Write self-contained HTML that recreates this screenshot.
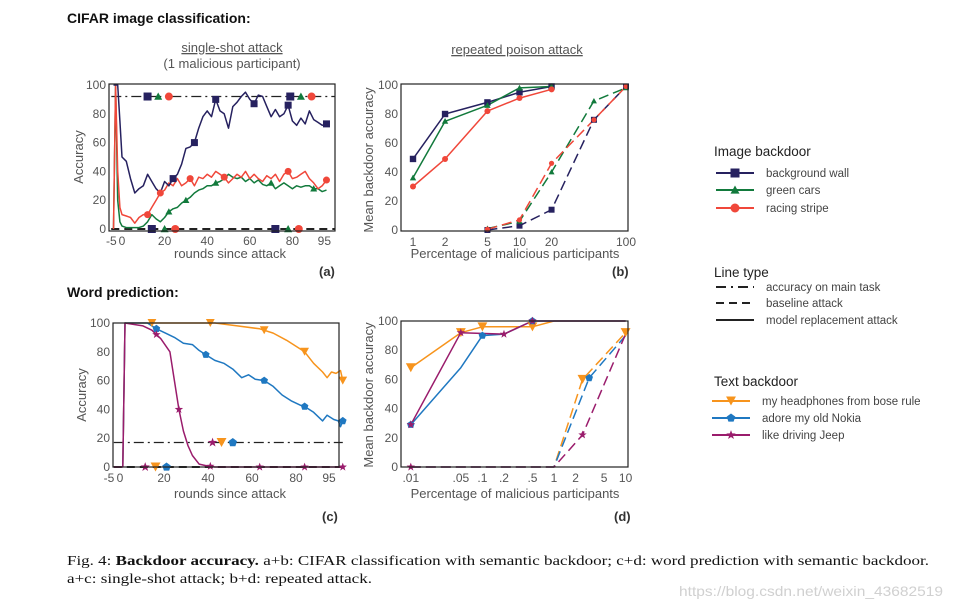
<!DOCTYPE html>
<html><head><meta charset="utf-8"><style>
body{margin:0;background:#fff;}
svg{display:block;font-family:"Liberation Sans",sans-serif;}
.tk{font-size:12px;fill:#555;}
.al{font-size:13px;fill:#555;}
</style></head><body>
<svg id="fig" width="955" height="609" viewBox="0 0 955 609">
<rect width="955" height="609" fill="#fff"/>
<text x="67" y="23" font-size="14" font-weight="bold" fill="#111">CIFAR image classification:</text>
<text x="67" y="297" font-size="14" font-weight="bold" fill="#111">Word prediction:</text>
<text x="232" y="52" text-anchor="middle" class="al" text-decoration="underline">single-shot attack</text>
<text x="232" y="68" text-anchor="middle" class="al">(1 malicious participant)</text>
<text x="517" y="54" text-anchor="middle" class="al" text-decoration="underline">repeated poison attack</text>
<text x="230" y="258" text-anchor="middle" class="al">rounds since attack</text>
<text x="230" y="498" text-anchor="middle" class="al">rounds since attack</text>
<text x="515" y="258" text-anchor="middle" class="al">Percentage of malicious participants</text>
<text x="515" y="498" text-anchor="middle" class="al">Percentage of malicious participants</text>
<text transform="translate(83,157) rotate(-90)" text-anchor="middle" class="al">Accuracy</text>
<text transform="translate(86,395) rotate(-90)" text-anchor="middle" class="al">Accuracy</text>
<text transform="translate(373,160) rotate(-90)" text-anchor="middle" class="al">Mean backdoor accuracy</text>
<text transform="translate(373,395) rotate(-90)" text-anchor="middle" class="al">Mean backdoor accuracy</text>
<text x="319" y="276" font-size="13" font-weight="bold" fill="#333">(a)</text>
<text x="612" y="276" font-size="13" font-weight="bold" fill="#333">(b)</text>
<text x="322" y="521" font-size="13" font-weight="bold" fill="#333">(c)</text>
<text x="614" y="521" font-size="13" font-weight="bold" fill="#333">(d)</text>
<g id="legend">
<text x="714" y="156" font-size="13.5" fill="#222">Image backdoor</text>
<text x="714" y="277" font-size="13.5" fill="#222">Line type</text>
<text x="714" y="386" font-size="13.5" fill="#222">Text backdoor</text>
</g>
<text x="67" y="565" font-family="Liberation Serif,serif" font-size="14" fill="#111" textLength="862" lengthAdjust="spacingAndGlyphs">Fig. 4: <tspan font-weight="bold">Backdoor accuracy.</tspan> a+b: CIFAR classification with semantic backdoor; c+d: word prediction with semantic backdoor.</text>
<text x="67" y="583" font-family="Liberation Serif,serif" font-size="14" fill="#111" textLength="305" lengthAdjust="spacingAndGlyphs">a+c: single-shot attack; b+d: repeated attack.</text>
<text x="679" y="596" font-size="14" fill="#d0d0d0" textLength="264" lengthAdjust="spacingAndGlyphs">https://blog.csdn.net/weixin_43682519</text>
</svg>
<script>
// ---------- data ----------
const roundsA = [-4,-3,-2,-1,0,2,4,6,8,10,12,14,16,18,20,22,24,26,28,30,32,34,36,38,40,42,44,46,48,50,52,54,56,58,60,62,64,66,68,70,72,74,76,78,80,82,84,86,88,90,92,94,96];
const wallA = [100,100,100,75,50,47,35,25,28,30,38,33,28,25,33,30,35,38,45,56,57,60,70,78,82,78,90,82,80,70,85,88,92,95,90,87,93,92,85,78,83,78,80,86,75,72,77,73,82,76,74,72,73];
const stripeA = [0,100,40,15,10,9,8,4,8,10,10,15,20,25,27,32,30,35,30,32,35,30,36,35,38,36,40,38,36,32,35,38,36,40,35,38,35,33,37,35,38,33,38,40,35,36,38,40,35,32,28,30,34];
const carsA = [0,100,20,5,2,1,1,1,1,2,5,10,7,5,8,12,14,15,18,20,22,25,27,28,30,30,32,33,35,38,36,35,36,33,35,32,34,31,30,32,28,30,32,30,28,30,29,30,30,28,28,26,27];
const mainTaskA = 92;
const wallMarkA = [24,34,44,62,78,96];
const stripeMarkA = [12,18,32,48,78,96];
const carsMarkA = [22,30,44,70,90];
const ticksA = [-5,0,20,40,60,80,95];

const pctB = [1,2,5,10,20];
const wallB = [49,80,88,95,99];
const carsB = [36,75,86,98,99];
const stripeB = [30,49,82,91,97];
const pctBaseB = [5,10,20,50,100];
const wallBaseB = [0,3,14,76,99];
const carsBaseB = [1,6,40,89,98];
const stripeBaseB = [0.5,7,46,76,99];
const ticksB = [1,2,5,10,20,100];

const boseXC = [-1,0,10,20,30,40,50,60,66,72,76,78,80,84,88,90,92,94,96,97];
const boseC = [0,100,100,100,100,100,98,96,93,88,84,82,80,72,66,62,66,65,67,60];
const nokiaXC = [-1,0,10,14,18,22,26,30,33,36,40,44,48,52,55,58,62,66,70,74,78,80,84,88,90,93,95,96,97];
const nokiaC = [0,100,100,96,93,90,86,85,81,78,74,72,68,62,64,61,60,56,50,46,43,42,38,32,36,33,32,28,32];
const jeepXC = [-5,-1,0,8,12,16,20,22,24,26,28,30,33,36,40,97];
const jeepC = [0,0,100,98,95,89,80,60,40,25,15,8,2,1,0,0];
const mainTaskC = 17;
const boseMarkC = [12,38,62,80,97];
const nokiaMarkC = [14,36,62,80,97];
const jeepMarkC = [14,24,38,60,80,97];
const ticksC = [-5,0,20,40,60,80,95];

const pctD = [0.01,0.05,0.1,0.5,1,10];
const boseD = [68,92,96,96,100,100];
const pctNokiaD = [0.01,0.05,0.1,0.2,0.5,1,10];
const nokiaD = [29,68,90,91,100,100,100];
const pctJeepD = [0.01,0.05,0.2,0.5,1,10];
const jeepD = [29,92,91,100,100,100];
const pctBaseD = [0.01,0.1,1,2.5,10];
const boseBaseD = [0,0,0,60,92];
const pctNokiaBaseD = [0.01,0.1,1,3.1,10];
const nokiaBaseD = [0,0,0,61,90];
const jeepBaseD = [0,0,0,22,91];
const ticksD = [0.01,0.05,0.1,0.2,0.5,1,2,5,10];
const tickLabelsD = ['.01','.05','.1','.2','.5','1','2','5','10'];
const yTicks = [0,20,40,60,80,100];

// ---------- helpers ----------
const NS='http://www.w3.org/2000/svg';
const svg=document.getElementById('fig');
const C={navy:'#26215f',green:'#127a3c',red:'#f0473a',orange:'#f7941d',blue:'#1f78c1',purple:'#9a1c6c'};
function mk(tag,attrs,parent){const e=document.createElementNS(NS,tag);for(const k in attrs)e.setAttribute(k,attrs[k]);(parent||svg).appendChild(e);return e;}
function poly(xs,ys,sx,sy,color,dash,name,w){
  const pts=xs.map((x,i)=>sx(x).toFixed(1)+','+sy(ys[i]).toFixed(1)).join(' ');
  const el=mk('polyline',{points:pts,fill:'none',stroke:color,'stroke-width':w||1.5,'stroke-dasharray':dash||'none','stroke-linejoin':'round'});
  
  
  return el;
}
function marker(type,cx,cy,color,name,s){
  s=s||4;let el;
  if(type==='sq')el=mk('rect',{x:cx-s,y:cy-s,width:2*s,height:2*s,fill:color});
  else if(type==='tri')el=mk('polygon',{points:`${cx},${cy-s} ${cx-s},${cy+s*0.8} ${cx+s},${cy+s*0.8}`,fill:color});
  else if(type==='dtri')el=mk('polygon',{points:`${cx-s*1.1},${cy-s} ${cx+s*1.1},${cy-s} ${cx},${cy+s}`,fill:color});
  else if(type==='circ')el=mk('circle',{cx:cx,cy:cy,r:s,fill:color});
  else if(type==='pent'){let p=[];for(let i=0;i<5;i++){const a=-Math.PI/2+i*2*Math.PI/5;p.push((cx+s*Math.cos(a)).toFixed(1)+','+(cy+s*Math.sin(a)).toFixed(1));}el=mk('polygon',{points:p.join(' '),fill:color});}
  else {let p=[];for(let i=0;i<10;i++){const a=-Math.PI/2+i*Math.PI/5,r=i%2?s*0.45:s*1.1;p.push((cx+r*Math.cos(a)).toFixed(1)+','+(cy+r*Math.sin(a)).toFixed(1));}el=mk('polygon',{points:p.join(' '),fill:color});}
  
  
  return el;
}
function interp(xs,ys,x){for(let i=1;i<xs.length;i++){if(x<=xs[i]){const t=(x-xs[i-1])/(xs[i]-xs[i-1]);return ys[i-1]+t*(ys[i]-ys[i-1]);}}return ys[ys.length-1];}
function frame(x0,y0,x1,y1,name){
  const el=mk('rect',{x:x0,y:y0,width:x1-x0,height:y1-y0,fill:'none',stroke:'#222','stroke-width':1.2});
  
  
}
function yTickLabels(sy,x,panel){
  yTicks.forEach(v=>{
    const t=mk('text',{x:x,y:sy(v)+4,'text-anchor':'end',class:'tk'});t.textContent=v;
    
    
  });
}
function xTickLabels(vals,labels,sx,y,panel){
  vals.forEach((v,i)=>{
    const t=mk('text',{x:sx(v),y:y,'text-anchor':'middle',class:'tk'});t.textContent=labels[i];
    
    
  });
}

// ---------- panel a ----------
const xa=v=>122+2.13*v, ya=v=>229-1.44*v;
poly([-5,-3],[0,0],xa,ya,'#111','', 'model-replacement-start-a',1.5);
poly([-5,100],[0,0],xa,ya,'#222','8,5','baseline-attack-a',2);
poly([-5,100],[mainTaskA,mainTaskA],xa,ya,'#222','10,4,2,4','main-task-accuracy-a',1.2);
poly(roundsA,carsA,xa,ya,C.green,'','green-cars-line-a');
poly(roundsA,stripeA,xa,ya,C.red,'','racing-stripe-line-a');
poly(roundsA,wallA,xa,ya,C.navy,'','background-wall-line-a');
wallMarkA.forEach(r=>marker('sq',xa(r),ya(interp(roundsA,wallA,r)),C.navy,'wall-marker-a',3.5));
stripeMarkA.forEach(r=>marker('circ',xa(r),ya(interp(roundsA,stripeA,r)),C.red,'stripe-marker-a',3.5));
carsMarkA.forEach(r=>marker('tri',xa(r),ya(interp(roundsA,carsA,r)),C.green,'cars-marker-a',3.5));
[[12,'sq',C.navy],[17,'tri',C.green],[22,'circ',C.red],[79,'sq',C.navy],[84,'tri',C.green],[89,'circ',C.red]].forEach(m=>marker(m[1],xa(m[0]),ya(mainTaskA),m[2],'main-task-marker-a',4));
[[14,'sq',C.navy],[20,'tri',C.green],[25,'circ',C.red],[72,'sq',C.navy],[78,'tri',C.green],[83,'circ',C.red]].forEach(m=>marker(m[1],xa(m[0]),ya(0),m[2],'baseline-marker-a',4));
frame(109,84,335,231,'plot-frame-a');
yTickLabels(ya,106,'a');
xTickLabels(ticksA,ticksA,xa,245,'a');

// ---------- panel b ----------
const xb=v=>413+106.5*Math.log10(v), yb=v=>230-1.45*v;
poly(pctBaseB,wallBaseB,xb,yb,C.navy,'10,5','wall-baseline-b');
poly(pctBaseB,carsBaseB,xb,yb,C.green,'10,5','cars-baseline-b');
poly(pctBaseB,stripeBaseB,xb,yb,C.red,'10,5','stripe-baseline-b');
poly(pctB,wallB,xb,yb,C.navy,'','wall-line-b');
poly(pctB,carsB,xb,yb,C.green,'','cars-line-b');
poly(pctB,stripeB,xb,yb,C.red,'','stripe-line-b');
pctB.forEach((p,i)=>{marker('sq',xb(p),yb(wallB[i]),C.navy,'wall-point-b',3.2);marker('tri',xb(p),yb(carsB[i]),C.green,'cars-point-b',3.2);marker('circ',xb(p),yb(stripeB[i]),C.red,'stripe-point-b',3);});
pctBaseB.forEach((p,i)=>{marker('sq',xb(p),yb(wallBaseB[i]),C.navy,'wall-base-point-b',3);marker('tri',xb(p),yb(carsBaseB[i]),C.green,'cars-base-point-b',3);marker('circ',xb(p),yb(stripeBaseB[i]),C.red,'stripe-base-point-b',2.6);});
frame(401,84,628,231,'plot-frame-b');
yTickLabels(yb,398,'b');
xTickLabels(ticksB,ticksB,xb,246,'b');

// ---------- panel c ----------
const xc=v=>125+2.245*v, yc=v=>467-1.44*v;
const xcTick=v=>120+2.2*v;
poly([-5,97],[0,0],xc,yc,'#222','8,5','baseline-attack-c',2);
poly([-5,97],[mainTaskC,mainTaskC],xc,yc,'#222','10,4,2,4','main-task-accuracy-c',1.2);
poly(boseXC,boseC,xc,yc,C.orange,'','bose-line-c');
poly(nokiaXC,nokiaC,xc,yc,C.blue,'','nokia-line-c');
poly(jeepXC,jeepC,xc,yc,C.purple,'','jeep-line-c');
boseMarkC.forEach(r=>marker('dtri',xc(r),yc(interp(boseXC,boseC,r)),C.orange,'bose-marker-c',4));
nokiaMarkC.forEach(r=>marker('pent',xc(r),yc(interp(nokiaXC,nokiaC,r)),C.blue,'nokia-marker-c',4));
jeepMarkC.forEach(r=>marker('star',xc(r),yc(interp(jeepXC,jeepC,r)),C.purple,'jeep-marker-c',4));
[[39,'star',C.purple],[43,'dtri',C.orange],[48,'pent',C.blue]].forEach(m=>marker(m[1],xc(m[0]),yc(mainTaskC),m[2],'main-task-marker-c',4.5));
[[9,'star',C.purple],[13.6,'dtri',C.orange],[18.5,'pent',C.blue]].forEach(m=>marker(m[1],xc(m[0]),yc(0),m[2],'baseline-marker-c',4.5));
frame(113,323,339,467,'plot-frame-c');
yTickLabels(yc,110,'c');
xTickLabels(ticksC,ticksC,xcTick,482,'c');

// ---------- panel d ----------
const xd=v=>554+71.6*Math.log10(v), yd=v=>467-1.46*v;
poly(pctBaseD,boseBaseD,xd,yd,C.orange,'10,5','bose-baseline-d');
poly(pctNokiaBaseD,nokiaBaseD,xd,yd,C.blue,'10,5','nokia-baseline-d');
poly(pctBaseD,jeepBaseD,xd,yd,C.purple,'10,5','jeep-baseline-d');
poly(pctD,boseD,xd,yd,C.orange,'','bose-line-d');
poly(pctNokiaD,nokiaD,xd,yd,C.blue,'','nokia-line-d');
poly(pctJeepD,jeepD,xd,yd,C.purple,'','jeep-line-d');
[0,1,2,3].forEach(i=>marker('dtri',xd(pctD[i]),yd(boseD[i]),C.orange,'bose-point-d',4.5));
[0,2,4].forEach(i=>marker('pent',xd(pctNokiaD[i]),yd(nokiaD[i]),C.blue,'nokia-point-d',4));
[0,1,2,3].forEach(i=>marker('star',xd(pctJeepD[i]),yd(jeepD[i]),C.purple,'jeep-point-d',4));
marker('dtri',xd(pctBaseD[3]),yd(boseBaseD[3]),C.orange,'bose-base-point-d',4.5);
marker('dtri',xd(pctBaseD[4]),yd(boseBaseD[4]),C.orange,'bose-base-point-d',4.5);
marker('pent',xd(pctNokiaBaseD[3]),yd(nokiaBaseD[3]),C.blue,'nokia-base-point-d',4);
marker('star',xd(pctBaseD[3]),yd(jeepBaseD[3]),C.purple,'jeep-base-point-d',4);
marker('star',xd(pctBaseD[0]),yd(jeepBaseD[0]),C.purple,'jeep-base-point-d',4);
frame(401,321,628,467,'plot-frame-d');
yTickLabels(yd,398,'d');
xTickLabels(ticksD,tickLabelsD,xd,482,'d');

// ---------- legend ----------
const lg=document.getElementById('legend');
const legItems=[
 [173,C.navy,'sq','background wall','',716],[190,C.green,'tri','green cars','',716],[208,C.red,'circ','racing stripe','',716],
 [287,'#222',null,'accuracy on main task','10,5,2,5',716],[303,'#222',null,'baseline attack','8,5',716],[320,'#222',null,'model replacement attack','',716],
 [401,C.orange,'dtri','my headphones from bose rule','',712],[418,C.blue,'pent','adore my old Nokia','',712],[435,C.purple,'star','like driving Jeep','',712]
];
legItems.forEach(it=>{
  const [y,col,m,label,dash,x0]=it;
  const l=mk('line',{x1:x0,y1:y,x2:x0+38,y2:y,stroke:col,'stroke-width':2,'stroke-dasharray':dash||'none'},lg);
  
  
  if(m){const mm=marker(m,x0+19,y,col,'legend-marker',4.5);lg.appendChild(mm);}
  const t=mk('text',{x:x0+50,y:y+4,'font-size':'11.5',fill:'#444'},lg);t.textContent=label;
  
  
});
</script>
</body></html>
